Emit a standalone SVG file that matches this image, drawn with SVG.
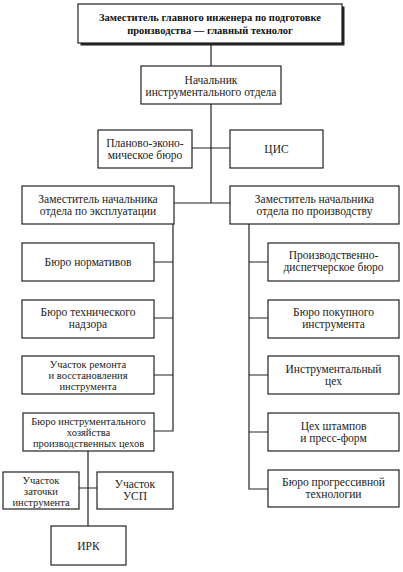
<svg xmlns="http://www.w3.org/2000/svg" width="403" height="572" viewBox="0 0 403 572">
<style>
.b{fill:#fff;stroke:#222;stroke-width:1.2}
.t{font-family:'Liberation Serif','DejaVu Serif',serif;font-size:11.5px;fill:#222;text-anchor:middle}
.s{font-size:10.5px}
.tb{font-family:'Liberation Serif','DejaVu Serif',serif;font-size:10.5px;font-weight:bold;fill:#111;text-anchor:middle}
.c{fill:none;stroke:#222;stroke-width:1.2}
</style>
<rect width="403" height="572" fill="#fff"/>
<g id="connectors">
<path class="c" d="M211 43V203M192 148H230M174 203H230"/>
<path class="c" d="M173 224V431H154M154 262H173M154 318H173M154 375H173"/>
<path class="c" d="M249 224V489H268M249 262H268M249 318H268M249 375H268M249 432H268"/>
<path class="c" d="M88 451V526M79 488H97"/>
</g>
<g id="n-top">
<rect x="80.5" y="6.5" width="264" height="39" fill="#222"/>
<rect class="b" x="78" y="4" width="264" height="39" stroke-width="1.5"/>
<text class="tb" x="210" y="21">Заместитель главного инженера по подготовке</text>
<text class="tb" x="210" y="34">производства — главный технолог</text>
</g>
<g id="n-head">
<rect class="b" x="141" y="66" width="140" height="38"/>
<text class="t" x="211" y="84">Начальник</text>
<text class="t" x="211" y="96">инструментального отдела</text>
</g>
<g id="n-peb">
<rect class="b" x="98" y="130" width="94" height="38"/>
<text class="t" x="145" y="147">Планово-эконо-</text>
<text class="t" x="145" y="159">мическое бюро</text>
</g>
<g id="n-cis">
<rect class="b" x="230" y="130" width="93" height="38"/>
<text class="t" x="276.5" y="153">ЦИС</text>
</g>
<g id="n-zam-exp">
<rect class="b" x="22" y="186" width="152" height="38"/>
<text class="t" x="98" y="203">Заместитель начальника</text>
<text class="t" x="98" y="215">отдела по эксплуатации</text>
</g>
<g id="n-zam-prod">
<rect class="b" x="230" y="186" width="169" height="38"/>
<text class="t" x="314.5" y="203">Заместитель начальника</text>
<text class="t" x="314.5" y="215">отдела по производству</text>
</g>
<g id="n-norm">
<rect class="b" x="22" y="243" width="132" height="38"/>
<text class="t" x="88" y="266">Бюро нормативов</text>
</g>
<g id="n-nadzor">
<rect class="b" x="22" y="300" width="132" height="38"/>
<text class="t" x="88" y="316">Бюро технического</text>
<text class="t" x="88" y="328">надзора</text>
</g>
<g id="n-remont">
<rect class="b" x="22" y="356" width="132" height="38"/>
<text class="t s" x="88" y="368">Участок ремонта</text>
<text class="t s" x="88" y="379">и восстановления</text>
<text class="t s" x="88" y="390">инструмента</text>
</g>
<g id="n-biho">
<rect class="b" x="23" y="413" width="131" height="38"/>
<text class="t s" x="88.5" y="425">Бюро инструментального</text>
<text class="t s" x="88.5" y="436">хозяйства</text>
<text class="t s" x="88.5" y="447">производственных цехов</text>
</g>
<g id="n-zatochka">
<rect class="b" x="3" y="472" width="76" height="37"/>
<text class="t s" x="41" y="484">Участок</text>
<text class="t s" x="41" y="495">заточки</text>
<text class="t s" x="41" y="506">инструмента</text>
</g>
<g id="n-usp">
<rect class="b" x="97" y="472" width="76" height="37"/>
<text class="t" x="135" y="488">Участок</text>
<text class="t" x="135" y="500">УСП</text>
</g>
<g id="n-irk">
<rect class="b" x="51" y="526" width="75" height="39"/>
<text class="t" x="88.5" y="550">ИРК</text>
</g>
<g id="n-pdb">
<rect class="b" x="268" y="243" width="131" height="38"/>
<text class="t" x="333.5" y="259">Производственно-</text>
<text class="t" x="333.5" y="271">диспетчерское бюро</text>
</g>
<g id="n-pokup">
<rect class="b" x="268" y="300" width="131" height="38"/>
<text class="t" x="333.5" y="316">Бюро покупного</text>
<text class="t" x="333.5" y="328">инструмента</text>
</g>
<g id="n-ic">
<rect class="b" x="268" y="356" width="131" height="38"/>
<text class="t" x="333.5" y="373">Инструментальный</text>
<text class="t" x="333.5" y="385">цех</text>
</g>
<g id="n-shtamp">
<rect class="b" x="268" y="413" width="131" height="38"/>
<text class="t" x="333.5" y="430">Цех штампов</text>
<text class="t" x="333.5" y="442">и пресс-форм</text>
</g>
<g id="n-progr">
<rect class="b" x="268" y="470" width="131" height="37"/>
<text class="t" x="333.5" y="486">Бюро прогрессивной</text>
<text class="t" x="333.5" y="498">технологии</text>
</g>
</svg>
